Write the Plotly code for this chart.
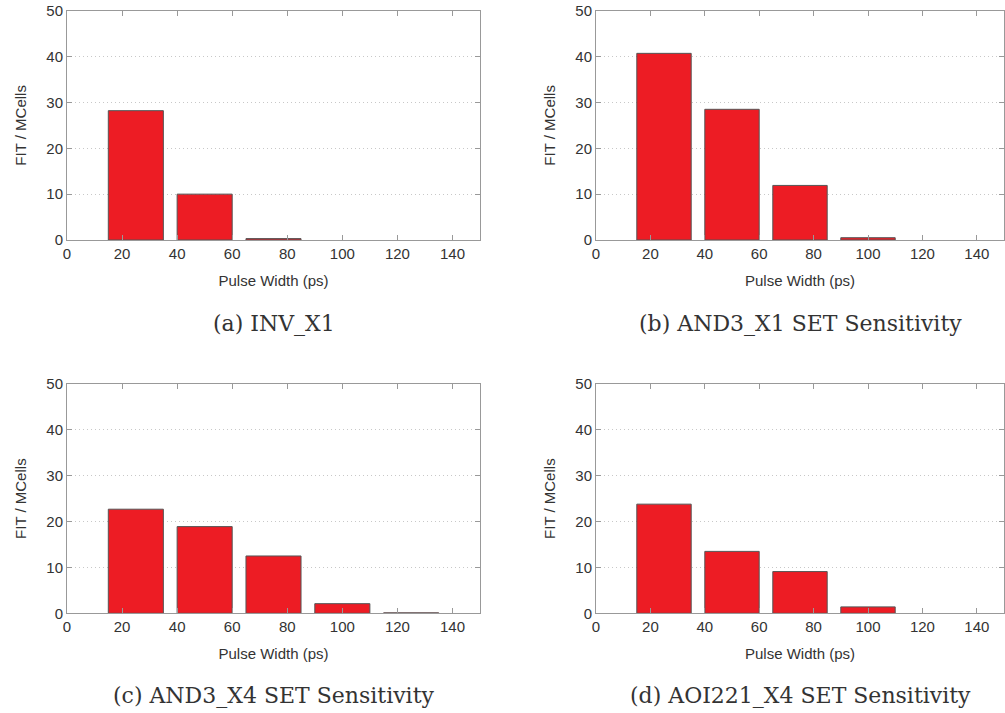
import plotly.graph_objects as go

pulse_width = [25, 50, 75, 100, 125]
fit_inv_x1 = [28.2, 10.0, 0.3, 0.0, 0.0]
fit_and3_x1 = [40.7, 28.5, 11.9, 0.5, 0.0]
fit_and3_x4 = [22.7, 18.9, 12.5, 2.1, 0.1]
fit_aoi221_x4 = [23.8, 13.5, 9.1, 1.4, 0.0]
captions = ["(a) INV_X1", "(b) AND3_X1 SET Sensitivity",
            "(c) AND3_X4 SET Sensitivity", "(d) AOI221_X4 SET Sensitivity"]
x_ticks = [0, 20, 40, 60, 80, 100, 120, 140]
y_ticks = [0, 10, 20, 30, 40, 50]

series = [fit_inv_x1, fit_and3_x1, fit_and3_x4, fit_aoi221_x4]

W, H = 1005, 713


def px_x(p):
    return p / W


def px_y(p):
    return 1 - p / H


xdoms = [[px_x(67), px_x(480)], [px_x(596), px_x(1004)]]
ydoms = [[px_y(240), px_y(10.7)], [px_y(613.3), px_y(384)]]

fig = go.Figure()
layout = dict(width=W, height=H, margin=dict(l=0, r=0, t=0, b=0),
              plot_bgcolor="white", paper_bgcolor="white", showlegend=False,
              font=dict(family="Liberation Sans, Arial, sans-serif", size=14, color="#333"))
annotations = []
for i, vals in enumerate(series):
    r, c = divmod(i, 2)
    xa = "xaxis" if i == 0 else f"xaxis{i+1}"
    ya = "yaxis" if i == 0 else f"yaxis{i+1}"
    xref = "x" if i == 0 else f"x{i+1}"
    yref = "y" if i == 0 else f"y{i+1}"
    line_w = [1 if v > 0 else 0 for v in vals]
    fig.add_trace(go.Bar(x=pulse_width, y=vals, width=20, xaxis=xref, yaxis=yref,
                         marker=dict(color="#ED1C24", line=dict(color="#555", width=line_w))))
    layout[xa] = dict(domain=xdoms[c], anchor=yref, range=[0, 150], tickvals=x_ticks,
                      automargin=False,
                      showline=True, linecolor="#999", linewidth=1, mirror="allticks",
                      ticks="inside", ticklen=5, tickcolor="#999", showgrid=False, zeroline=False,
                      tickfont=dict(size=15, color="#333"),
                      title=dict(text="Pulse Width (ps)", font=dict(size=15, color="#333"), standoff=14))
    layout[ya] = dict(domain=ydoms[r], anchor=xref, range=[0, 50], tickvals=y_ticks,
                      automargin=False, ticklabeloverflow="allow",
                      showline=True, linecolor="#999", linewidth=1, mirror="allticks",
                      ticks="inside", ticklen=5, tickcolor="#999",
                      showgrid=True, gridcolor="#c8c8c8", griddash="1px,3px", gridwidth=1, zeroline=False,
                      tickfont=dict(size=15, color="#333"),
                      title=dict(text="FIT / MCells", font=dict(size=15, color="#333"), standoff=16))
    cx = (xdoms[c][0] + xdoms[c][1]) / 2
    cy = px_y([323, 695][r])
    annotations.append(dict(text=captions[i], xref="paper", yref="paper", x=cx, y=cy,
                            showarrow=False, xanchor="center", yanchor="middle",
                            font=dict(family="DejaVu Serif, serif", size=22, color="#333")))
layout["annotations"] = annotations
fig.update_layout(**layout)
fig.write_html("out.html", config={"displayModeBar": False},
               post_script="document.body.style.margin='0';document.body.style.overflow='hidden';")
